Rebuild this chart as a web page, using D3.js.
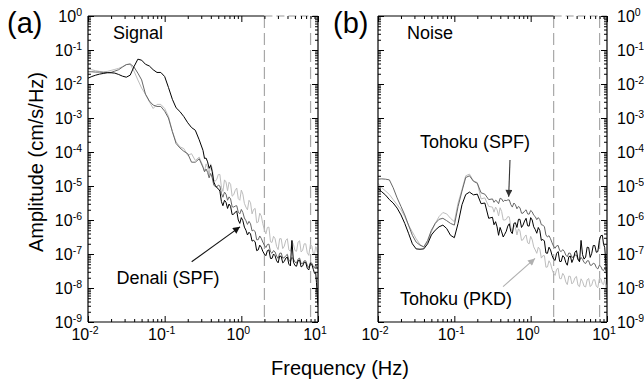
<!DOCTYPE html>
<html><head><meta charset="utf-8">
<script src="https://cdn.jsdelivr.net/npm/d3@7"></script>
<style>
body{margin:0;background:#fff}
svg{display:block}
text{font-family:"Liberation Sans",Arial,Helvetica,sans-serif;fill:#000}
</style>
</head><body>
<svg id="chart" width="644" height="384"></svg>
<script>
// ---------- DATA ----------
// Main frequency grid (Hz)
const freqHz = [0.0100,0.0112,0.0126,0.0141,0.0158,0.0178,0.0200,0.0224,0.0251,0.0282,0.0316,0.0355,0.0398,0.0447,0.0501,0.0562,0.0631,0.0708,0.0794,0.0891,0.100,0.112,0.126,0.141,0.158,0.178,0.200,0.224,0.251,0.282,0.316,
0.347,0.380,0.417,0.457,0.501,0.550,0.603,0.661,0.724,0.794,0.871,0.955,1.047,1.148,1.259,1.380,1.514,1.660,1.820,1.995,2.188,2.399,2.630,2.884,3.162,3.467,3.802,4.169,4.571,5.012,5.495,6.026,6.607,7.244,7.943,8.710,9.33,9.77,10.0];
// Extra in-between frequencies (Hz) for the noisy high-frequency part
const freqHzMid = [0.331,0.363,0.398,0.437,0.479,0.525,0.575,0.631,0.692,0.759,0.832,0.912,1.000,1.096,1.202,1.318,1.445,1.585,1.738,1.905,2.089,2.291,2.512,2.754,3.020,3.311,3.631,3.981,4.365,4.786,5.248,5.754,6.310,6.918,7.586,8.318,9.016,9.550,9.886];

// Amplitudes as log10(cm/s/Hz)
// (a) Signal
const signalDenaliSPF = [-1.83,-1.78,-1.74,-1.71,-1.69,-1.67,-1.67,-1.68,-1.72,-1.77,-1.80,-1.74,-1.49,-1.27,-1.30,-1.42,-1.47,-1.58,-1.66,-1.66,-1.78,-2.10,-2.45,-2.70,-2.81,-2.96,-3.14,-3.28,-3.36,-3.64,-3.95,
-4.18,-4.48,-4.58,-4.98,-5.08,-5.46,-5.42,-5.66,-5.6,-5.83,-5.74,-6.1,-6.02,-6.3,-6.36,-6.62,-6.64,-6.88,-6.8,-7.0,-6.9,-7.13,-7.0,-7.2,-7.06,-7.26,-7.12,-7.3,-6.6,-7.34,-7.2,-7.38,-7.24,-7.42,-7.28,-7.46,-7.55,-8.2,-8.5];
const signalDenaliSPFMid = [-4.19,-4.29,-4.39,-4.88,-5.05,-5.15,-5.58,-5.48,-5.53,-5.84,-5.77,-6.0,-5.93,-6.21,-6.44,-6.41,-6.6,-6.9,-6.74,-6.92,-7.05,-6.88,-7.13,-7.05,-7.26,-7.07,-7.22,-7.09,-7.35,-7.24,-7.36,-7.18,-7.35,-7.25,-7.47,-7.31,-7.57,-7.84,-8.35];
const signalGray = [-1.64,-1.64,-1.65,-1.65,-1.66,-1.66,-1.66,-1.62,-1.58,-1.50,-1.43,-1.41,-1.50,-1.68,-1.88,-2.30,-2.50,-2.62,-2.66,-2.66,-2.80,-3.00,-3.40,-3.75,-3.88,-3.98,-4.05,-4.30,-4.30,-4.20,-4.45,
-4.5,-4.76,-4.76,-5.02,-4.98,-5.22,-5.18,-5.42,-5.38,-5.62,-5.58,-5.82,-5.78,-6.02,-6.04,-6.32,-6.34,-6.58,-6.54,-6.74,-6.72,-6.94,-6.9,-7.06,-6.98,-7.12,-7.05,-7.18,-7.1,-7.24,-7.15,-7.28,-7.2,-7.33,-7.25,-7.38,-7.32,-7.42,-7.4];
const signalGrayMid = [-4.58,-4.6,-4.63,-4.97,-5.02,-5.0,-5.33,-5.24,-5.32,-5.61,-5.59,-5.77,-5.69,-5.94,-6.13,-6.11,-6.3,-6.58,-6.47,-6.65,-6.81,-6.71,-6.98,-6.94,-7.13,-6.97,-7.11,-7.01,-7.23,-7.15,-7.27,-7.12,-7.28,-7.2,-7.4,-7.27,-7.41,-7.34,-7.41];
const signalLightGray = [-1.56,-1.58,-1.61,-1.63,-1.64,-1.63,-1.60,-1.57,-1.54,-1.49,-1.43,-1.42,-1.62,-1.88,-2.12,-2.30,-2.52,-2.72,-2.60,-2.60,-2.72,-2.95,-3.40,-3.70,-3.85,-3.90,-4.10,-4.05,-4.25,-4.15,-4.42,
-4.35,-4.68,-4.48,-4.86,-4.66,-5.04,-4.82,-5.14,-4.95,-5.26,-5.06,-5.42,-5.24,-5.62,-5.42,-5.82,-5.66,-6.06,-5.88,-6.28,-6.22,-6.64,-6.48,-6.78,-6.55,-6.84,-6.6,-6.88,-6.62,-6.9,-6.65,-6.94,-6.7,-6.96,-6.72,-7.0,-6.78,-6.95,-6.9];
const signalLightGrayMid = [-4.58,-4.45,-4.35,-4.83,-4.8,-4.66,-5.16,-4.88,-4.89,-5.3,-5.13,-5.37,-5.12,-5.51,-5.7,-5.49,-5.69,-6.08,-5.8,-6.11,-6.41,-6.21,-6.66,-6.55,-6.87,-6.55,-6.77,-6.55,-6.92,-6.72,-6.92,-6.61,-6.89,-6.7,-7.04,-6.77,-7.01,-6.8,-6.93];
// (b) Noise
const noiseBlack = [-5.07,-5.17,-5.27,-5.4,-5.5,-5.65,-5.85,-6.1,-6.39,-6.7,-6.85,-6.86,-6.85,-6.7,-6.44,-6.3,-6.2,-6.15,-6.25,-6.45,-6.52,-6.1,-5.55,-5.25,-5.18,-5.26,-5.24,-5.52,-5.5,-5.95,-5.92,
-6.05,-6.45,-6.35,-6.42,-6.18,-6.34,-6.1,-6.22,-5.98,-6.15,-5.95,-6.18,-6.0,-6.28,-6.22,-6.6,-6.62,-6.98,-6.88,-7.15,-6.98,-7.22,-7.05,-7.25,-7.08,-7.25,-6.95,-7.15,-6.6,-7.15,-6.8,-7.1,-6.75,-6.95,-6.6,-6.45,-6.8,-7.5,-7.9];
const noiseBlackMid = [-6.14,-6.2,-6.22,-6.5,-6.33,-6.11,-6.4,-6.08,-5.98,-6.22,-6.03,-6.17,-5.93,-6.2,-6.39,-6.31,-6.57,-6.97,-6.8,-7.04,-7.19,-6.93,-7.22,-7.09,-7.33,-7.06,-7.14,-6.9,-7.23,-7.02,-7.09,-6.81,-6.98,-6.75,-6.93,-6.46,-6.72,-7.1,-7.7];
const noiseTohokuSPF = [-4.8,-4.79,-4.8,-4.82,-5.05,-5.35,-5.6,-5.85,-6.15,-6.45,-6.65,-6.74,-6.79,-6.6,-6.3,-6.1,-5.98,-5.95,-6.02,-6.1,-6.15,-5.6,-5.15,-4.75,-4.7,-4.86,-4.92,-5.2,-5.24,-5.4,-5.38,
-5.42,-5.52,-5.38,-5.42,-5.41,-5.55,-5.5,-5.67,-5.64,-5.8,-5.7,-5.83,-5.76,-5.9,-5.93,-6.14,-6.2,-6.5,-6.55,-6.77,-6.76,-6.9,-6.87,-7.03,-6.97,-7.1,-7.03,-7.17,-7.1,-7.25,-7.2,-7.33,-7.27,-7.4,-7.33,-7.47,-7.42,-7.5,-7.5];
const noiseTohokuSPFMid = [-5.48,-5.45,-5.36,-5.46,-5.43,-5.41,-5.62,-5.55,-5.6,-5.8,-5.74,-5.82,-5.72,-5.86,-5.99,-5.99,-6.15,-6.44,-6.46,-6.67,-6.83,-6.75,-6.93,-6.92,-7.08,-6.98,-7.09,-7.03,-7.2,-7.16,-7.28,-7.2,-7.33,-7.29,-7.44,-7.37,-7.49,-7.44,-7.5];
const noiseTohokuPKD = [-4.92,-5.05,-5.15,-5.25,-5.4,-5.55,-5.7,-5.9,-6.15,-6.35,-6.55,-6.72,-6.8,-6.65,-6.35,-6.1,-5.9,-5.78,-5.82,-5.95,-6.05,-5.5,-5.1,-4.7,-4.65,-4.85,-4.9,-5.38,-5.35,-5.6,-5.62,
-5.62,-5.88,-5.75,-6.0,-5.9,-6.22,-6.15,-6.44,-6.32,-6.58,-6.44,-6.7,-6.58,-6.88,-6.8,-7.12,-7.05,-7.38,-7.28,-7.57,-7.45,-7.72,-7.57,-7.82,-7.65,-7.88,-7.7,-7.92,-7.73,-7.95,-7.76,-7.96,-7.76,-7.95,-7.72,-7.88,-7.75,-8.1,-8.3];
const noiseTohokuPKDMid = [-5.77,-5.7,-5.64,-6.0,-5.98,-5.91,-6.37,-6.22,-6.26,-6.6,-6.49,-6.67,-6.48,-6.79,-6.98,-6.86,-7.05,-7.39,-7.2,-7.45,-7.63,-7.42,-7.73,-7.64,-7.9,-7.66,-7.83,-7.66,-7.96,-7.81,-7.97,-7.72,-7.91,-7.76,-7.99,-7.73,-7.9,-7.88,-8.2];

// Ticks
const xMajorTicks = [0.01, 0.1, 1, 10];
const xTickExponents = ["-2", "-1", "0", "1"];
const yMajorTicks = [1, 1e-1, 1e-2, 1e-3, 1e-4, 1e-5, 1e-6, 1e-7, 1e-8, 1e-9];
const yTickExponents = ["0", "-1", "-2", "-3", "-4", "-5", "-6", "-7", "-8", "-9"];
const dashedFreqs = [2, 8];

// ---------- DRAW ----------
const svg = d3.select("#chart");
const plotTop = 16, plotBottom = 322;
const colors = {black: "#000", gray: "#666", light: "#bdbdbd"};

const xMinorTicks = [];
[0.01, 0.1, 1].forEach(d => { for (let k = 2; k <= 9; k++) xMinorTicks.push(k * d); });
const yMinorTicks = [];
for (let e = -9; e < 0; e++) for (let k = 2; k <= 9; k++) yMinorTicks.push(k * Math.pow(10, e));

const defs = svg.append("defs");
function marker(id, color) {
  defs.append("marker").attr("id", id).attr("viewBox", "0 0 10 10")
    .attr("refX", 10).attr("refY", 5).attr("markerWidth", 9).attr("markerHeight", 7)
    .attr("markerUnits", "userSpaceOnUse").attr("orient", "auto")
    .append("path").attr("d", "M0,0 L10,5 L0,10 Z").attr("fill", color);
}
marker("arrBlack", "#111");
marker("arrGray", "#333");
marker("arrLight", "#b0b0b0");

function supLabel(sel, exp) {
  sel.append("tspan").text("10");
  sel.append("tspan").attr("dy", -6).attr("font-size", 10.5).text(exp);
}

function drawPanel(opts) {
  const {x0, x1, series, id} = opts;
  const x = d3.scaleLog().domain([0.01, 10]).range([x0, x1]);
  const y = d3.scaleLog().domain([1e-9, 1]).range([plotBottom, plotTop]);
  const g = svg.append("g");

  defs.append("clipPath").attr("id", "clip" + id).append("rect")
    .attr("x", x0).attr("y", plotTop).attr("width", x1 - x0).attr("height", plotBottom - plotTop);

  // dashed frequency limits
  g.selectAll(".dash").data(dashedFreqs).join("line")
    .attr("x1", d => x(d)).attr("x2", d => x(d)).attr("y1", plotTop).attr("y2", plotBottom)
    .attr("stroke", "#a8a8a8").attr("stroke-width", 1.2).attr("stroke-dasharray", "12,5");

  // spectra
  const line = d3.line().x(d => x(d.f)).y(d => y(d.a));
  const lg = g.append("g").attr("clip-path", `url(#clip${id})`);
  series.forEach(s => {
    const pts = freqHz.map((f, i) => ({f, a: Math.pow(10, s.values[i])}))
      .concat(freqHzMid.map((f, i) => ({f, a: Math.pow(10, s.mid[i])})))
      .sort((p, q) => p.f - q.f);
    lg.append("path").datum(pts).attr("d", line).attr("fill", "none")
      .attr("stroke", s.color).attr("stroke-width", 1).attr("stroke-linejoin", "round");
  });

  // frame
  g.append("line").attr("x1", x0).attr("x2", x(2)).attr("y1", plotTop).attr("y2", plotTop)
    .attr("stroke", "#000").attr("stroke-width", 1);
  g.append("line").attr("x1", x(2)).attr("x2", x1).attr("y1", plotTop).attr("y2", plotTop)
    .attr("stroke", "#999").attr("stroke-width", 1).attr("stroke-dasharray", "8,4");
  g.append("line").attr("x1", x0).attr("x2", x1).attr("y1", plotBottom).attr("y2", plotBottom)
    .attr("stroke", "#000").attr("stroke-width", 1.2);
  g.append("line").attr("x1", x0).attr("x2", x0).attr("y1", plotTop).attr("y2", plotBottom)
    .attr("stroke", "#000").attr("stroke-width", 1.2);
  g.append("line").attr("x1", x1).attr("x2", x1).attr("y1", plotTop).attr("y2", plotBottom)
    .attr("stroke", "#000").attr("stroke-width", 1.2);

  // ticks (inward on all sides)
  const noDomain = s => s.select(".domain").remove();
  const tk = (axis, tr) => g.append("g").attr("transform", tr).call(axis).call(noDomain)
    .selectAll("line").attr("stroke", "#000");
  tk(d3.axisBottom(x).tickValues(xMinorTicks).tickSize(-3).tickFormat(""), `translate(0,${plotBottom})`);
  tk(d3.axisBottom(x).tickValues(xMajorTicks).tickSize(-6).tickFormat(""), `translate(0,${plotBottom})`);
  tk(d3.axisTop(x).tickValues(xMinorTicks).tickSize(-3).tickFormat(""), `translate(0,${plotTop})`);
  tk(d3.axisTop(x).tickValues(xMajorTicks).tickSize(-6).tickFormat(""), `translate(0,${plotTop})`);
  tk(d3.axisLeft(y).tickValues(yMinorTicks).tickSize(-3).tickFormat(""), `translate(${x0},0)`);
  tk(d3.axisLeft(y).tickValues(yMajorTicks).tickSize(-6).tickFormat(""), `translate(${x0},0)`);
  tk(d3.axisRight(y).tickValues(yMinorTicks).tickSize(-3).tickFormat(""), `translate(${x1},0)`);
  tk(d3.axisRight(y).tickValues(yMajorTicks).tickSize(-6).tickFormat(""), `translate(${x1},0)`);

  // x tick labels
  xMajorTicks.forEach((v, i) => {
    const t = g.append("text").attr("x", x(v) - 3).attr("y", 340).attr("font-size", 16)
      .attr("text-anchor", "middle");
    supLabel(t, xTickExponents[i]);
  });
  // y tick labels
  yMajorTicks.forEach((v, i) => {
    const t = g.append("text").attr("y", y(v) + 5.5).attr("font-size", 16);
    if (opts.yLabelsRight) t.attr("x", x1 + 10).attr("text-anchor", "start");
    else t.attr("x", x0 - 6).attr("text-anchor", "end");
    supLabel(t, yTickExponents[i]);
  });

  // panel letter and title
  g.append("text").attr("x", opts.letterX).attr("y", 33).attr("font-size", 29).text(opts.letter);
  g.append("text").attr("x", x(opts.titleF)).attr("y", 39).attr("font-size", 18).text(opts.title);

  // annotations
  opts.notes.forEach(n => {
    g.append("text").attr("x", x(n.tf)).attr("y", y(n.ta)).attr("font-size", 18).text(n.text);
    g.append("line").attr("x1", x(n.af0)).attr("y1", y(n.aa0)).attr("x2", x(n.af1)).attr("y2", y(n.aa1))
      .attr("stroke", n.color).attr("stroke-width", 1.1).attr("marker-end", `url(#${n.marker})`);
  });
}

drawPanel({
  id: "a", x0: 88, x1: 318, letter: "(a)", letterX: 7, title: "Signal", titleF: 0.0212,
  series: [
    {values: signalLightGray, mid: signalLightGrayMid, color: colors.light},
    {values: signalGray, mid: signalGrayMid, color: colors.gray},
    {values: signalDenaliSPF, mid: signalDenaliSPFMid, color: colors.black}
  ],
  notes: [
    {text: "Denali (SPF)", tf: 0.0236, ta: 1.3e-8, af0: 0.225, aa0: 5.9e-8, af1: 0.96, aa1: 6.3e-7, color: "#111", marker: "arrBlack"}
  ]
});

drawPanel({
  id: "b", x0: 378, x1: 607, letter: "(b)", letterX: 333, title: "Noise", titleF: 0.024, yLabelsRight: true,
  series: [
    {values: noiseTohokuPKD, mid: noiseTohokuPKDMid, color: colors.light},
    {values: noiseTohokuSPF, mid: noiseTohokuSPFMid, color: colors.gray},
    {values: noiseBlack, mid: noiseBlackMid, color: colors.black}
  ],
  notes: [
    {text: "Tohoku (SPF)", tf: 0.0355, ta: 1.3e-4, af0: 0.536, aa0: 5.8e-5, af1: 0.515, aa1: 4.8e-6, color: "#333", marker: "arrGray"},
    {text: "Tohoku (PKD)", tf: 0.0194, ta: 3.2e-9, af0: 0.435, aa0: 1.1e-8, af1: 1.14, aa1: 7.4e-8, color: "#b0b0b0", marker: "arrLight"}
  ]
});

// axis titles
svg.append("text").attr("x", 340).attr("y", 375).attr("font-size", 20).attr("text-anchor", "middle")
  .text("Frequency (Hz)");
svg.append("text").attr("transform", "translate(43,162) rotate(-90)").attr("font-size", 20)
  .attr("text-anchor", "middle").text("Amplitude (cm/s/Hz)");
</script>
</body></html>
